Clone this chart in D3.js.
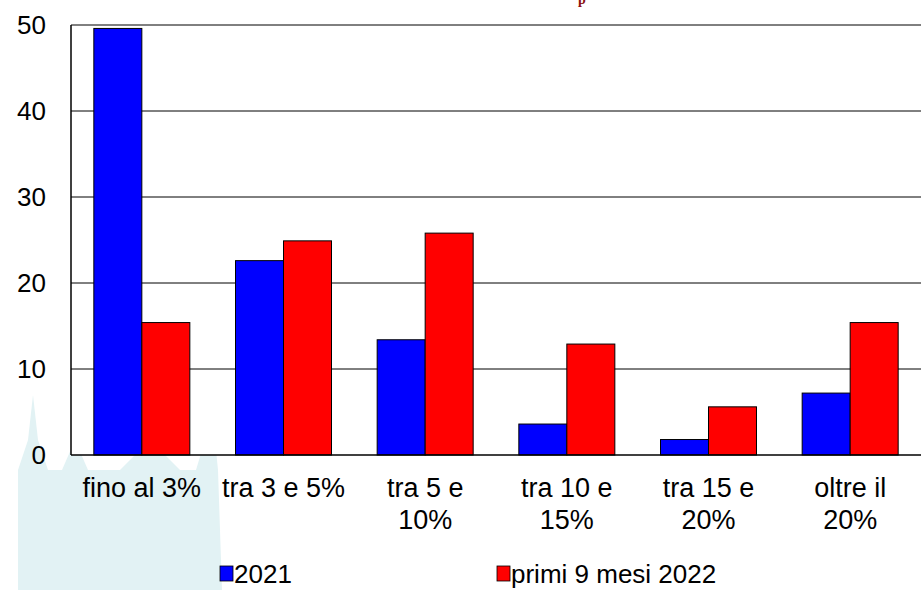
<!DOCTYPE html>
<html><head><meta charset="utf-8">
<script src="https://cdn.jsdelivr.net/npm/d3@7"></script>
<style>body{margin:0;background:#fff}svg{font-family:"Liberation Sans",Arial,sans-serif}</style>
</head><body><svg id="root" width="921" height="590"></svg>
<script>
const categories = [['fino al 3%'], ['tra 3 e 5%'], ['tra 5 e', '10%'], ['tra 10 e', '15%'], ['tra 15 e', '20%'], ['oltre il', '20%']]
const series = ['2021', 'primi 9 mesi 2022']
const values2021 = [49.6, 22.6, 13.4, 3.6, 1.8, 7.2]
const values2022 = [15.4, 24.9, 25.8, 12.9, 5.6, 15.4]
const yTicks = [0, 10, 20, 30, 40, 50]
const colors = ['#0000ff', '#ff0000']

const svg = d3.select('#root')
const plotLeft = 71, plotRight = 921, plotTop = 25, plotBottom = 455

// faint cathedral backdrop
const bg = svg.append('g').attr('fill', '#e2f2f4')
bg.append('path').attr('d', 'M18,590 L18,470 L28,440 L33,395 L38,440 L48,470 L62,470 L75,440 L88,470 L120,470 L150,440 L180,470 L196,470 L205,440 L212,410 L218,470 L222,590 Z')

svg.append('rect').attr('x', plotLeft).attr('y', plotTop).attr('width', plotRight - plotLeft)
  .attr('height', plotBottom - plotTop).attr('fill', '#fff')

// title, mostly above the visible area
svg.append('text').attr('x', 582).attr('y', 4).attr('text-anchor', 'middle')
  .attr('font-family', 'Liberation Serif, serif').attr('font-weight', 'bold')
  .attr('font-size', 14).attr('fill', '#8b1010').text('p')

const x = d3.scaleBand().domain(d3.range(categories.length)).range([plotLeft, plotRight])
const y = d3.scaleLinear().domain([0, 50]).range([plotBottom, plotTop])
const barW = 48

// gridlines
svg.append('g').selectAll('line').data(yTicks.slice(1)).enter().append('line')
  .attr('x1', plotLeft).attr('x2', plotRight).attr('y1', d => y(d)).attr('y2', d => y(d))
  .attr('stroke', '#000').attr('stroke-width', 1)

const data = []
values2021.forEach((v, i) => data.push({ i, s: 0, v }))
values2022.forEach((v, i) => data.push({ i, s: 1, v }))

svg.append('g').selectAll('rect').data(data).enter().append('rect')
  .attr('x', d => x(d.i) + x.bandwidth() / 2 - barW + d.s * barW)
  .attr('y', d => y(d.v))
  .attr('width', barW)
  .attr('height', d => y(0) - y(d.v))
  .attr('fill', d => colors[d.s])
  .attr('stroke', '#000').attr('stroke-width', 1)

// axes frame
svg.append('line').attr('x1', plotLeft).attr('x2', plotLeft).attr('y1', plotTop).attr('y2', plotBottom).attr('stroke', '#000').attr('stroke-width', 1.5)
svg.append('line').attr('x1', plotLeft).attr('x2', plotRight).attr('y1', plotBottom).attr('y2', plotBottom).attr('stroke', '#000').attr('stroke-width', 1.5)

svg.append('g').selectAll('text').data(yTicks).enter().append('text')
  .attr('x', 46).attr('y', d => y(d) + 9).attr('text-anchor', 'end')
  .attr('font-size', 26).text(d => d)

const xl = svg.append('g').selectAll('text').data(categories).enter().append('text')
  .attr('text-anchor', 'middle').attr('font-size', 27)
  .attr('x', (d, i) => x(i) + x.bandwidth() / 2)
xl.selectAll('tspan').data(d => d).enter().append('tspan')
  .attr('x', function () { return this.parentNode.getAttribute('x') })
  .attr('y', (d, j) => 497 + j * 32).text(d => d)

// legend
const lx = [220, 497]
series.forEach((s, k) => {
  svg.append('rect').attr('x', lx[k]).attr('y', 566).attr('width', 13).attr('height', 15)
    .attr('fill', colors[k]).attr('stroke', '#000').attr('stroke-width', 0.8)
  svg.append('text').attr('x', lx[k] + 14).attr('y', 583).attr('font-size', 26).text(s)
})
</script></body></html>
